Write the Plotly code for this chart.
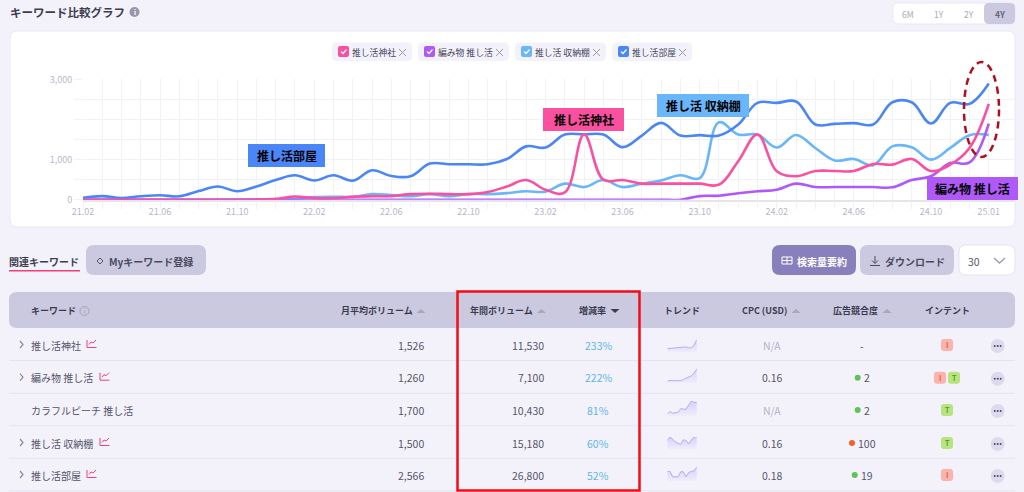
import plotly.graph_objects as go

W, H = 1024, 492
FONT = "Noto Sans CJK JP"

# ---------- data ----------
months = ["%02d.%02d" % (21 + (m + 1) // 12, (m + 1) % 12 + 1) for m in range(48)]
tick_labels = {"21.02", "21.06", "21.10", "22.02", "22.06", "22.10", "23.02",
               "23.06", "23.10", "24.02", "24.06", "24.10", "25.01"}
oshi_room = [50, 90, 40, 85, 110, 85, 215, 330, 210, 330, 490, 610, 480, 610, 475, 735,
             590, 585, 900, 885, 885, 885, 1015, 1330, 1300, 1625, 1625, 1625, 1310, 1600,
             1915, 1600, 1610, 1600, 1875, 2415, 2415, 2450, 1875, 1890, 1910, 1875, 2430,
             2430, 1900, 2415, 2390, 2900]
oshi_shelf = [0, 0, 0, 0, 0, 0, 0, 0, 5, 5, 10, 20, 65, 75, 70, 140,
              115, 85, 140, 85, 140, 140, 165, 210, 200, 400, 315, 490, 315, 400,
              480, 610, 540, 1930, 1625, 1625, 1300, 1615, 1290, 980, 1015, 860, 1330,
              1310, 1000, 1290, 1610, 1615]
oshi_knit = [0] * 32 + [90, 100, 160, 210, 250, 400, 315, 315, 315, 315, 310,
                        490, 585, 915, 930, 1900]
oshi_shrine = [0, 0, 0, 0, 0, 0, 0, 0, 0, 5, 20, 80, 40, 35, 75, 85,
               90, 140, 150, 140, 140, 190, 330, 490, 250, 180, 1625, 500, 490, 400,
               400, 400, 400, 375, 960, 1625, 710, 585, 715, 715, 715, 890, 875,
               1015, 715, 875, 1290, 2390]
y_ticks = [0, 500, 1000, 1500, 2000, 2500, 3000]
y_labels = ["0", "", "1,000", "", "", "", "3,000"]

keywords = ["推し活神社", "編み物 推し活", "カラフルピーチ 推し活", "推し活 収納棚", "推し活部屋"]
monthly_vol = ["1,526", "1,260", "1,700", "1,500", "2,566"]
annual_vol = ["11,530", "7,100", "10,430", "15,180", "26,800"]
growth = ["233%", "222%", "81%", "60%", "52%"]
cpc = ["N/A", "0.16", "N/A", "0.16", "0.18"]
competition = ["-", "2", "2", "100", "19"]
intents = [["I"], ["I", "T"], ["T"], ["T"], ["I"]]
sparks = [
    [10, 10, 11, 12, 13, 13, 15, 15, 12, 13, 20, 37],
    [5, 8, 7, 7, 7, 7, 10, 14, 18, 22, 30, 42],
    [5, 13, 8, 8, 10, 21, 21, 19, 32, 43, 39, 39],
    [24, 34, 28, 20, 16, 13, 26, 24, 14, 26, 34, 34],
    [28, 28, 12, 12, 12, 27, 27, 12, 25, 28, 30, 41],
]
range_buttons = ["6M", "1Y", "2Y", "4Y"]

# ---------- colours ----------
BG = "#f3f2fb"
HEAD = "#cbc9e0"
BLUE, SKY, PINK, PURPLE = "#4a86f7", "#69b6fb", "#fb4f9f", "#ae59f8"
TXT = "#55556a"
DARK = "#3d3d50"

X = lambda p: p / W
Y = lambda p: 1 - p / H
shapes, notes = [], []


def path(d, fill=None, line=None, lw=1, layer="below"):
    shapes.append(dict(type="path", xref="paper", yref="paper", path=d, layer=layer,
                       fillcolor=fill or "rgba(0,0,0,0)",
                       line=dict(color=line or "rgba(0,0,0,0)", width=lw if line else 0)))


def rrect(x0, y0, x1, y1, r, fill, line=None, lw=1, layer="below"):
    p = lambda a, b: f"{X(a):.5f},{Y(b):.5f}"
    d = (f"M{p(x0 + r, y0)} L{p(x1 - r, y0)} Q{p(x1, y0)} {p(x1, y0 + r)} L{p(x1, y1 - r)} "
         f"Q{p(x1, y1)} {p(x1 - r, y1)} L{p(x0 + r, y1)} Q{p(x0, y1)} {p(x0, y1 - r)} "
         f"L{p(x0, y0 + r)} Q{p(x0, y0)} {p(x0 + r, y0)} Z")
    path(d, fill, line, lw, layer)


def poly(pts, line=None, lw=1, fill=None, close=False, layer="below"):
    d = "M" + " L".join(f"{X(a):.5f},{Y(b):.5f}" for a, b in pts) + (" Z" if close else "")
    path(d, fill, line, lw, layer)


def circle(cx, cy, r, fill, line=None, lw=1, layer="below", dash=None):
    shapes.append(dict(type="circle", xref="paper", yref="paper", layer=layer,
                       x0=X(cx - r), x1=X(cx + r), y0=Y(cy - r), y1=Y(cy + r),
                       fillcolor=fill,
                       line=dict(color=line or "rgba(0,0,0,0)", width=lw if line else 0)))


def text(x, y, s, size=10, color=TXT, anchor="center", bold=False):
    notes.append(dict(xref="paper", yref="paper", x=X(x), y=Y(y), text=f"<b>{s}</b>" if bold else s,
                      showarrow=False, xanchor=anchor, yanchor="middle", borderpad=0, borderwidth=0,
                      font=dict(family=FONT, size=size, color=color)))


def tri(cx, cy, color, down=False):
    a, b = (cy - 2, cy + 2) if down else (cy + 2, cy - 2)
    poly([(cx - 4.5, a), (cx + 4.5, a), (cx, b)], fill=color, close=True)


# ---------- title & range buttons ----------
text(10, 12, "キーワード比較グラフ", 11.5, DARK, "left", True)
circle(134.5, 12, 5, "#9797ab")
text(134.5, 12, "i", 7, "white", bold=True)
rrect(893, 3, 1015, 24, 5, "white", "#e9e8f3")
rrect(984, 3, 1015, 24, 5, HEAD)
for lab, cx in zip(range_buttons, [908, 939, 969, 999.5]):
    on = lab == "4Y"
    text(cx, 14, lab, 8.5, "#66657c" if on else "#a9a8b8", bold=on)

# ---------- chart card ----------
rrect(10, 31, 1015, 227, 7, "white", "#e9e8f3")
chips = [(332, 412, PINK, keywords[0]), (418, 509, PURPLE, keywords[1]),
         (515, 606, SKY, keywords[3]), (612, 692, BLUE, keywords[4])]
for x0, x1, c, lab in chips:
    rrect(x0, 42.5, x1, 61, 5, BG)
    rrect(x0 + 6, 46, x0 + 17, 57, 2, c)
    poly([(x0 + 9, 51.5), (x0 + 11, 53.5), (x0 + 14.5, 49.5)], line="white", lw=1.2)
    text(x0 + 20, 52, lab, 8.8, "#45455a", "left")
    poly([(x1 - 13, 49), (x1 - 6, 56)], line="#9a9aaa", lw=1)
    poly([(x1 - 6, 49), (x1 - 13, 56)], line="#9a9aaa", lw=1)

# ---------- table chrome ----------
text(9, 261, "関連キーワード", 10, DARK, "left", True)
rrect(9, 270, 80, 271.5, 0, "#ef3f76")
rrect(86, 245, 206, 275, 8, HEAD)
poly([(100, 258), (103, 261), (100, 264), (97, 261)], line="#55556a", close=True)
text(109, 261, "Myキーワード登録", 10, "#4a4a60", "left", True)

rrect(772, 245, 856, 275, 8, "#8880bc")
rrect(782, 257, 792, 264, 0, None, "white", 1)
poly([(782, 260.5), (792, 260.5)], line="white")
poly([(787, 257), (787, 264)], line="white")
text(796.5, 261, "検索量要約", 10, "white", "left", True)
rrect(860, 245, 954, 275, 8, HEAD)
poly([(875, 256), (875, 263)], line="#4a4a60")
poly([(872, 260.5), (875, 263.5), (878, 260.5)], line="#4a4a60")
poly([(870, 265.5), (880, 265.5)], line="#4a4a60")
text(885, 261, "ダウンロード", 10, "#4a4a60", "left", True)
rrect(959, 245, 1015, 275, 7, "white", "#e5e4ef")
text(968, 261, "30", 10.5, TXT, "left")
poly([(994, 258), (999.5, 263), (1005, 258)], line="#9a9aaa", lw=1.3)

rrect(9, 292, 1015, 328, 8, HEAD)
HC = "#3c3c50"
text(31, 310, "キーワード", 9, HC, "left", True)
circle(84.5, 311, 4.5, "rgba(0,0,0,0)", "#9a9ab0", 0.8)
text(84.5, 311, "i", 6, "#9a9ab0")
text(412.5, 310, "月平均ボリューム", 9, HC, "right", True)
tri(421, 311, "#a8a7bb")
text(532.5, 310, "年間ボリューム", 9, HC, "right", True)
tri(541.5, 311, "#a8a7bb")
text(606, 310, "増減率", 9, HC, "right", True)
tri(615, 311, HC, True)
text(682, 310, "トレンド", 9, HC, bold=True)
text(787, 310, "CPC (USD)", 9, HC, "right", True)
tri(796, 311, "#a8a7bb")
text(877.5, 310, "広告競合度", 9, HC, "right", True)
tri(887, 311, "#a8a7bb")
text(947, 310, "インテント", 9, HC, bold=True)

row_y = [345, 377.7, 410, 443, 475]
row_rule = [360.5, 393.3, 425.7, 458.3, 490.7]
spark_box = [(339.5, 352), (369, 383), (401, 416), (437, 449), (467, 481)]
icon_x = [87, 100, None, 100, 87]
dot_x = [None, 857.7, 857.7, 852, 854.7]
dot_c = [None, "#62c155", "#62c155", "#f4612a", "#62c155"]
for i, ry in enumerate(row_y):
    poly([(9, row_rule[i]), (1015, row_rule[i])], line="#e4e3f0")
    text(31, ry, keywords[i], 10, TXT, "left")
    if icon_x[i]:
        ix = icon_x[i]
        poly([(20, ry - 4), (23, ry - 0.5), (20, ry + 3)], line="#8a8a9a", lw=1.2)
        poly([(ix, ry - 5), (ix, ry + 2.5), (ix + 9.5, ry + 2.5)], line="#e8457f")
        poly([(ix + 2, ry - 0.5), (ix + 4, ry - 3), (ix + 6, ry - 2), (ix + 9, ry - 5)], line="#e8457f")
    text(424, ry, monthly_vol[i], 10.5, TXT, "right")
    text(544, ry, annual_vol[i], 10.5, TXT, "right")
    text(598, ry, growth[i], 10.5, "#5eb4ec")
    na = cpc[i] == "N/A"
    text(772, ry, cpc[i], 10.5, "#b3b3c4" if na else TXT)
    if dot_x[i]:
        circle(dot_x[i], ry, 3, dot_c[i])
        text(867, ry, competition[i], 10.5, TXT)
    else:
        text(862, ry, competition[i], 10.5, TXT)
    its = intents[i]
    x0 = 947 - (len(its) * 12 + (len(its) - 1) * 2) / 2
    for j, k in enumerate(its):
        bx = x0 + j * 14
        rrect(bx, ry - 6, bx + 12, ry + 6, 3, "#fbb3ab" if k == "I" else "#b7e47e")
        text(bx + 6, ry, k, 7, "#d8645a" if k == "I" else "#5f9e2e", bold=True)
    circle(997.7, ry + 1, 7, "#dcdaec")
    for dx in (-3, 0, 3):
        circle(997.7 + dx, ry + 1, 1, "#4a4a60")

# ---------- overlay labels ----------
for x0, x1, y0, y1, c, lab in [(248, 325, 144, 167, BLUE, keywords[4]),
                               (543, 624, 108, 131, PINK, keywords[0]),
                               (657, 749, 94, 117, SKY, keywords[3]),
                               (927, 1018, 177, 200, PURPLE, keywords[1])]:
    rrect(x0, y0, x1, y1, 0, c, layer="above")
    text((x0 + x1) / 2, (y0 + y1) / 2, lab, 12, "#000000", bold=True)

shapes.append(dict(type="circle", xref="paper", yref="paper", layer="above",
                   x0=X(964), x1=X(999), y0=Y(157), y1=Y(62),
                   line=dict(color="#b50d1c", width=2.5, dash="7px,5px")))
rrect(457.5, 291.5, 639.5, 490.5, 0, None, "#f40b14", 2.5, "above")

# ---------- main chart ----------
fig = go.Figure()
for name, vals, c in [("推し活 収納棚", oshi_shelf, SKY), ("推し活部屋", oshi_room, BLUE),
                      ("編み物 推し活", oshi_knit, PURPLE), ("推し活神社", oshi_shrine, PINK)]:
    fig.add_trace(go.Scatter(x=months, y=vals, name=name, mode="lines", cliponaxis=False,
                             line=dict(color=c, width=2.6, shape="spline", smoothing=1.1),
                             xaxis="x", yaxis="y", showlegend=False, hoverinfo="skip"))

GRID = "#f2f2f6"
layout = dict(
    width=W, height=H, margin=dict(l=0, r=0, t=0, b=0, pad=0, autoexpand=False), autosize=False,
    paper_bgcolor=BG, plot_bgcolor="rgba(0,0,0,0)", showlegend=False,
    xaxis=dict(domain=[X(83), X(1014)], type="category", categoryorder="array", categoryarray=months,
               range=[0, 48.31], tickvals=months,
               ticktext=[m if m in tick_labels else "" for m in months], tickangle=0,
               tickfont=dict(family=FONT, size=9, color="#b8b6cc"), ticklabelstandoff=-5,
               showgrid=True, gridcolor=GRID, gridwidth=1, ticks="outside", ticklen=8, tickcolor=GRID,
               showline=True, linecolor="#e4e4ea", linewidth=1.5, zeroline=False, anchor="y"),
    yaxis=dict(domain=[Y(199.7), Y(79.4)], range=[0, 3000], tickvals=y_ticks, ticktext=y_labels,
               tickfont=dict(family=FONT, size=9, color="#b8b6cc"),
               showgrid=True, gridcolor=GRID, gridwidth=1, ticks="outside", ticklen=8, tickcolor=GRID,
               showline=False, zeroline=False, anchor="x"),
)

# ---------- sparklines ----------
for i, vals in enumerate(sparks):
    n = i + 2
    top, bottom = spark_box[i]
    fig.add_trace(go.Scatter(x=list(range(len(vals))), y=vals, mode="lines", fill="tozeroy",
                             line=dict(color="#b4aaf8", width=1),
                             fillgradient=dict(type="vertical",
                                               colorscale=[[0, "rgba(190,180,250,0.08)"],
                                                           [1, "rgba(190,180,250,0.55)"]]),
                             xaxis=f"x{n}", yaxis=f"y{n}", showlegend=False, hoverinfo="skip"))
    layout[f"xaxis{n}"] = dict(domain=[X(667.3), X(696.8)], range=[0, len(vals) - 1], visible=False, anchor=f"y{n}")
    layout[f"yaxis{n}"] = dict(domain=[Y(bottom), Y(top)], range=[0, max(vals)], visible=False, anchor=f"x{n}")

fig.update_layout(**layout, shapes=shapes, annotations=notes)
fig.write_html("out.html", post_script="document.body.style.margin='0';document.body.style.overflow='hidden';",
               config={"displayModeBar": False})
